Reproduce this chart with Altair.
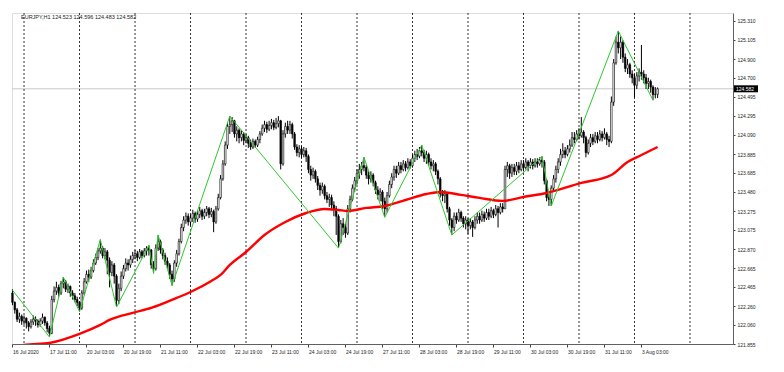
import altair as alt
import pandas as pd

header_text = "EURJPY,H1  124.523 124.596 124.483 124.582"
first_open = 122.40
last_price = 124.582

close = [
    122.30, 122.22, 122.12, 122.15, 122.10,
    122.13, 122.08, 122.04, 122.09, 122.12, 122.10, 122.06, 122.10, 122.14, 122.08,
    122.02, 121.97, 122.33, 122.42, 122.46, 122.40, 122.50, 122.52, 122.44, 122.47,
    122.40, 122.37, 122.33, 122.30, 122.24, 122.40, 122.52, 122.60, 122.57, 122.64,
    122.72, 122.78, 122.85, 122.88, 122.80, 122.84, 122.75, 122.62, 122.70, 122.58,
    122.32, 122.45, 122.58, 122.66, 122.72, 122.70, 122.76, 122.80, 122.82, 122.78,
    122.84, 122.80, 122.85, 122.88, 122.86, 122.70, 122.66, 122.88, 122.95, 122.86,
    122.80, 122.74, 122.70, 122.60, 122.55, 122.72, 122.82, 122.95, 123.10, 123.18,
    123.22, 123.16, 123.20, 123.25, 123.19, 123.24, 123.28, 123.22, 123.26, 123.30,
    123.24, 123.27, 123.16, 123.30, 123.42, 123.62, 123.78, 123.98, 124.18, 124.20,
    124.24, 124.10, 124.14, 124.06, 124.10, 124.03, 124.06, 124.00, 123.96, 124.02,
    123.98, 124.04, 124.10, 124.16, 124.20, 124.15, 124.19, 124.22, 124.17, 124.21,
    124.24, 123.78, 124.10, 124.18, 124.14, 124.20, 124.10, 123.96, 123.90, 123.94,
    123.88, 123.92, 123.86, 123.72, 123.66, 123.70, 123.62, 123.55, 123.50, 123.54,
    123.44, 123.40, 123.42, 123.34, 123.30, 123.22, 122.95, 123.14, 123.10, 123.04,
    123.30, 123.40, 123.52, 123.60, 123.68, 123.72, 123.76, 123.74, 123.66, 123.62,
    123.66, 123.58, 123.50, 123.45, 123.48, 123.38, 123.30, 123.44, 123.56, 123.64,
    123.72, 123.68, 123.76, 123.72, 123.78, 123.74, 123.80, 123.76, 123.84, 123.88,
    123.86, 123.92, 123.90, 123.84, 123.88, 123.80, 123.76, 123.78, 123.70, 123.62,
    123.46, 123.44, 123.46, 123.30, 123.18, 123.10, 123.22, 123.18, 123.26, 123.20,
    123.14, 123.18, 123.12, 123.16, 123.10, 123.18, 123.22, 123.18, 123.24, 123.20,
    123.26, 123.22, 123.28, 123.24, 123.30, 123.26, 123.32, 123.30, 123.72, 123.76,
    123.68, 123.74, 123.70, 123.76, 123.72, 123.78, 123.74, 123.80, 123.76, 123.80,
    123.76, 123.80, 123.78, 123.82, 123.80, 123.60, 123.42, 123.40, 123.52, 123.62,
    123.72, 123.80, 123.88, 123.92, 123.88, 123.94, 123.98, 124.06, 124.04, 124.10,
    124.08, 124.12, 124.06, 123.90, 124.00, 124.06, 124.02, 124.08, 124.04, 124.10,
    124.06, 124.10, 124.04, 124.02, 124.44, 124.86, 125.08, 125.02, 125.08, 124.92,
    124.80, 124.84, 124.74, 124.70, 124.62, 124.72, 124.76, 124.74, 124.70, 124.64,
    124.66, 124.60, 124.52, 124.523, 124.582,
]

high = [
    122.44, 122.31, 122.24, 122.19, 122.17,
    122.16, 122.14, 122.10, 122.12, 122.16, 122.15, 122.12, 122.13, 122.18, 122.15,
    122.10, 122.05, 122.37, 122.47, 122.52, 122.49, 122.53, 122.57, 122.54, 122.50,
    122.48, 122.43, 122.40, 122.36, 122.31, 122.43, 122.56, 122.64, 122.65, 122.68,
    122.76, 122.82, 122.88, 122.97, 122.90, 122.88, 122.86, 122.78, 122.74, 122.72,
    122.60, 122.50, 122.63, 122.70, 122.77, 122.76, 122.80, 122.84, 122.86, 122.85,
    122.87, 122.86, 122.88, 122.90, 122.91, 122.87, 122.74, 122.92, 123.02, 122.97,
    122.88, 122.83, 122.78, 122.72, 122.64, 122.75, 122.86, 122.98, 123.14, 123.22,
    123.26, 123.25, 123.24, 123.29, 123.27, 123.28, 123.32, 123.30, 123.30, 123.33,
    123.32, 123.31, 123.29, 123.33, 123.46, 123.66, 123.82, 124.02, 124.22, 124.29,
    124.28, 124.25, 124.18, 124.16, 124.14, 124.12, 124.10, 124.08, 124.04, 124.05,
    124.04, 124.07, 124.13, 124.20, 124.24, 124.23, 124.24, 124.26, 124.25, 124.27,
    124.29, 124.25, 124.14, 124.22, 124.24, 124.24, 124.22, 124.12, 123.99, 123.98,
    123.97, 123.96, 123.95, 123.88, 123.76, 123.74, 123.72, 123.65, 123.58, 123.58,
    123.56, 123.48, 123.46, 123.45, 123.38, 123.33, 123.24, 123.18, 123.20, 123.14,
    123.34, 123.44, 123.56, 123.64, 123.72, 123.78, 123.80, 123.85, 123.77, 123.70,
    123.70, 123.68, 123.60, 123.54, 123.52, 123.50, 123.42, 123.48, 123.60, 123.68,
    123.76, 123.76, 123.80, 123.80, 123.82, 123.81, 123.84, 123.83, 123.88, 123.92,
    123.94, 123.96, 123.98, 123.93, 123.92, 123.90, 123.84, 123.82, 123.80, 123.72,
    123.64, 123.50, 123.50, 123.48, 123.32, 123.20, 123.26, 123.26, 123.30, 123.28,
    123.22, 123.22, 123.20, 123.20, 123.18, 123.22, 123.26, 123.26, 123.28, 123.27,
    123.30, 123.30, 123.32, 123.30, 123.34, 123.33, 123.36, 123.36, 123.76, 123.80,
    123.78, 123.78, 123.78, 123.80, 123.80, 123.82, 123.82, 123.84, 123.82, 123.84,
    123.83, 123.84, 123.84, 123.85, 123.86, 123.82, 123.62, 123.46, 123.55, 123.66,
    123.76, 123.84, 123.94, 124.00, 123.96, 123.98, 124.04, 124.12, 124.12, 124.14,
    124.16, 124.28, 124.14, 124.08, 124.04, 124.10, 124.10, 124.12, 124.12, 124.14,
    124.13, 124.16, 124.12, 124.08, 124.50, 124.90, 125.14, 125.20, 125.14, 125.10,
    124.96, 124.90, 124.86, 124.78, 124.74, 124.76, 124.80, 125.05, 124.78, 124.74,
    124.70, 124.68, 124.62, 124.60, 124.596,
]

low = [
    122.27, 122.18, 122.09, 122.08, 122.06,
    122.06, 122.02, 121.99, 122.02, 122.06, 122.05, 122.03, 122.04, 122.07, 122.05,
    121.98, 121.93, 121.96, 122.30, 122.38, 122.36, 122.38, 122.45, 122.41, 122.40,
    122.36, 122.33, 122.30, 122.26, 122.20, 122.22, 122.38, 122.50, 122.52, 122.55,
    122.62, 122.70, 122.75, 122.82, 122.77, 122.76, 122.60, 122.46, 122.58, 122.50,
    122.25, 122.28, 122.42, 122.55, 122.63, 122.64, 122.67, 122.72, 122.76, 122.74,
    122.76, 122.77, 122.78, 122.80, 122.80, 122.66, 122.61, 122.64, 122.85, 122.82,
    122.76, 122.70, 122.66, 122.55, 122.48, 122.52, 122.68, 122.80, 122.93, 123.06,
    123.14, 123.12, 123.12, 123.16, 123.15, 123.16, 123.20, 123.18, 123.19, 123.22,
    123.20, 123.21, 123.05, 123.14, 123.28, 123.40, 123.60, 123.76, 123.94, 124.10,
    124.12, 124.06, 124.02, 124.00, 124.02, 123.98, 124.00, 123.95, 123.93, 123.94,
    123.95, 123.96, 124.00, 124.08, 124.12, 124.11, 124.13, 124.15, 124.14, 124.15,
    124.17, 123.72, 123.76, 124.06, 124.10, 124.10, 124.05, 123.93, 123.86, 123.85,
    123.84, 123.85, 123.80, 123.68, 123.60, 123.62, 123.58, 123.50, 123.44, 123.46,
    123.40, 123.36, 123.32, 123.30, 123.22, 123.02, 122.88, 122.93, 123.02, 122.99,
    123.02, 123.26, 123.38, 123.48, 123.56, 123.62, 123.66, 123.70, 123.62, 123.56,
    123.58, 123.54, 123.46, 123.40, 123.38, 123.30, 123.21, 123.26, 123.42, 123.52,
    123.60, 123.63, 123.66, 123.68, 123.70, 123.70, 123.72, 123.73, 123.74, 123.80,
    123.82, 123.84, 123.86, 123.80, 123.78, 123.76, 123.72, 123.70, 123.66, 123.56,
    123.42, 123.38, 123.36, 123.26, 123.12, 123.02, 123.06, 123.14, 123.16, 123.16,
    123.10, 123.08, 123.03, 123.08, 123.00, 123.08, 123.14, 123.14, 123.16, 123.16,
    123.18, 123.18, 123.20, 123.20, 123.22, 123.10, 123.24, 123.26, 123.30, 123.64,
    123.62, 123.64, 123.66, 123.66, 123.68, 123.70, 123.70, 123.72, 123.70, 123.73,
    123.72, 123.74, 123.74, 123.76, 123.74, 123.56, 123.38, 123.33, 123.33, 123.48,
    123.58, 123.68, 123.76, 123.84, 123.84, 123.86, 123.90, 123.96, 124.00, 124.02,
    124.04, 124.06, 124.00, 123.85, 123.88, 123.96, 123.98, 124.00, 124.00, 124.02,
    124.02, 124.04, 123.98, 123.96, 124.00, 124.40, 124.84, 124.96, 124.90, 124.86,
    124.76, 124.74, 124.70, 124.64, 124.49, 124.58, 124.66, 124.68, 124.64, 124.58,
    124.58, 124.54, 124.46, 124.48, 124.483,
]

ma_bars = [0, 5, 16, 29, 38, 42, 52, 60, 71, 77, 86, 90, 94, 101, 109, 118, 127,
           135, 141, 145, 153, 161, 170, 179, 185, 194, 202, 212, 221, 231, 246,
           259, 266, 272, 279]
ma_vals = [121.813, 121.845, 121.866, 121.963, 122.059, 122.112, 122.187, 122.240,
           122.347, 122.411, 122.529, 122.593, 122.700, 122.838, 123.020, 123.159,
           123.255, 123.298, 123.287, 123.277, 123.309, 123.330, 123.394, 123.458,
           123.480, 123.448, 123.416, 123.384, 123.426, 123.469, 123.576, 123.661,
           123.800, 123.875, 123.960]

zz_bars = [0, 16, 22, 29, 38, 45, 59, 61, 63, 69, 94, 141, 152, 161, 177, 190,
           229, 233, 262, 277]
zz_vals = [122.43, 121.93, 122.57, 122.20, 122.97, 122.25, 122.91, 122.61, 123.02,
           122.48, 124.29, 122.88, 123.85, 123.21, 123.98, 123.02, 123.86, 123.33,
           125.20, 124.46]

day_start_bars = [5, 29, 53, 77, 101, 125, 149, 173, 197, 221, 245, 269, 293]

label_bars = [0, 16, 32, 48, 64, 80, 96, 112, 128, 144, 160, 176, 192, 208, 224,
              240, 256, 272]
label_texts = ["16 Jul 2020", "17 Jul 11:00", "20 Jul 03:00", "20 Jul 19:00",
               "21 Jul 11:00", "22 Jul 03:00", "22 Jul 19:00", "23 Jul 11:00",
               "24 Jul 03:00", "24 Jul 19:00", "27 Jul 11:00", "28 Jul 03:00",
               "28 Jul 19:00", "29 Jul 11:00", "30 Jul 03:00", "30 Jul 19:00",
               "31 Jul 11:00", "3 Aug 03:00"]

y_ticks = [125.310, 125.105, 124.900, 124.700, 124.495, 124.295, 124.090, 123.885,
           123.685, 123.480, 123.275, 123.075, 122.870, 122.665, 122.465, 122.260,
           122.060, 121.855]

W, H = 721, 331
FONT = "Liberation Sans"

opens = [first_open] + close[:-1]
df = pd.DataFrame({"i": list(range(len(close))), "o": opens, "c": close,
                   "h": high, "l": low})
df["hi"] = df[["h", "o", "c"]].max(axis=1)
df["lo"] = df[["l", "o", "c"]].min(axis=1)

ma_df = pd.DataFrame({"i": ma_bars, "v": ma_vals})
zz_df = pd.DataFrame({"i": zz_bars, "v": zz_vals})
grid_df = pd.DataFrame({"i": day_start_bars})
price_df = pd.DataFrame({"p": [last_price], "t": [f"{last_price:.3f}"]})
head_df = pd.DataFrame({"t": [header_text]})

xs = alt.Scale(domain=[-0.2, 311.6], nice=False, zero=False, padding=0)
ys = alt.Scale(domain=[121.855, 125.392], nice=False, zero=False, padding=0)

arr_labels = "[" + ",".join("'" + t + "'" for t in label_texts) + "]"
arr_bars = "[" + ",".join(str(b) for b in label_bars) + "]"
label_expr = f"{arr_labels}[indexof({arr_bars}, datum.value)]"

x_axis = alt.Axis(values=label_bars, labelExpr=label_expr, labelAlign="left",
                  labelFontSize=5, labelFont=FONT, labelColor="#222222",
                  tickSize=3, tickColor="#404040", labelPadding=2,
                  labelOverlap=False, labelFlush=False, grid=False, title=None,
                  domainColor="#606060")
y_axis = alt.Axis(orient="right", values=y_ticks, format=".3f", labelFontSize=5,
                  labelFont=FONT, labelColor="#222222", tickSize=2,
                  tickColor="#404040", labelPadding=2, labelOverlap=False,
                  labelFlush=False, grid=False, title=None, domainColor="#606060")


def X(field):
    return alt.X(field, scale=xs, axis=x_axis)


def Y(field):
    return alt.Y(field, scale=ys, axis=y_axis)


price_line = alt.Chart(price_df).mark_rule(color="#c8c8c8", strokeWidth=1).encode(
    y=Y("p:Q"), x=alt.value(0), x2=alt.value(W))

grid = alt.Chart(grid_df).mark_rule(color="#333333", strokeWidth=1,
                                    strokeDash=[2, 2]).encode(
    x=X("i:Q"), y=alt.value(0), y2=alt.value(H))

wicks = alt.Chart(df).mark_rule(color="#000000", strokeWidth=1).encode(
    x=X("i:Q"), y=Y("lo:Q"), y2="hi:Q")

bodies = alt.Chart(df).mark_bar(size=1.6, stroke="#000000", strokeWidth=0.6).encode(
    x=X("i:Q"), y=Y("o:Q"), y2="c:Q",
    fill=alt.condition("datum.c >= datum.o", alt.value("#ffffff"),
                       alt.value("#000000")))

ma = alt.Chart(ma_df).mark_line(color="#ff0000", strokeWidth=2.4,
                                interpolate="monotone", clip=True).encode(
    x=X("i:Q"), y=Y("v:Q"))

zz = alt.Chart(zz_df).mark_line(color="#2ec82e", strokeWidth=1).encode(
    x=X("i:Q"), y=Y("v:Q"))

tag = alt.Chart(price_df).mark_rule(color="#000000", strokeWidth=7,
                                    strokeCap="butt").encode(
    y=Y("p:Q"), x=alt.value(W + 1), x2=alt.value(W + 25))

tag_text = alt.Chart(price_df).mark_text(color="#ffffff", fontSize=5, font=FONT,
                                         align="left", baseline="middle").encode(
    y=Y("p:Q"), x=alt.value(W + 3), text="t:N")

head = alt.Chart(head_df).mark_text(color="#222222", fontSize=5.5, font=FONT,
                                    align="left", baseline="middle").encode(
    x=alt.value(9), y=alt.value(4), text="t:N")

chart = alt.layer(price_line, grid, wicks, bodies, ma, zz, tag, tag_text, head).properties(
    width=W, height=H,
    padding={"left": 4, "top": 5, "right": 43, "bottom": 18},
    autosize=alt.AutoSizeParams(type="none"),
).configure_view(stroke="#606060", strokeWidth=1).configure(background="#ffffff")

chart.save("out.html", embed_options={"renderer": "svg", "actions": False})
